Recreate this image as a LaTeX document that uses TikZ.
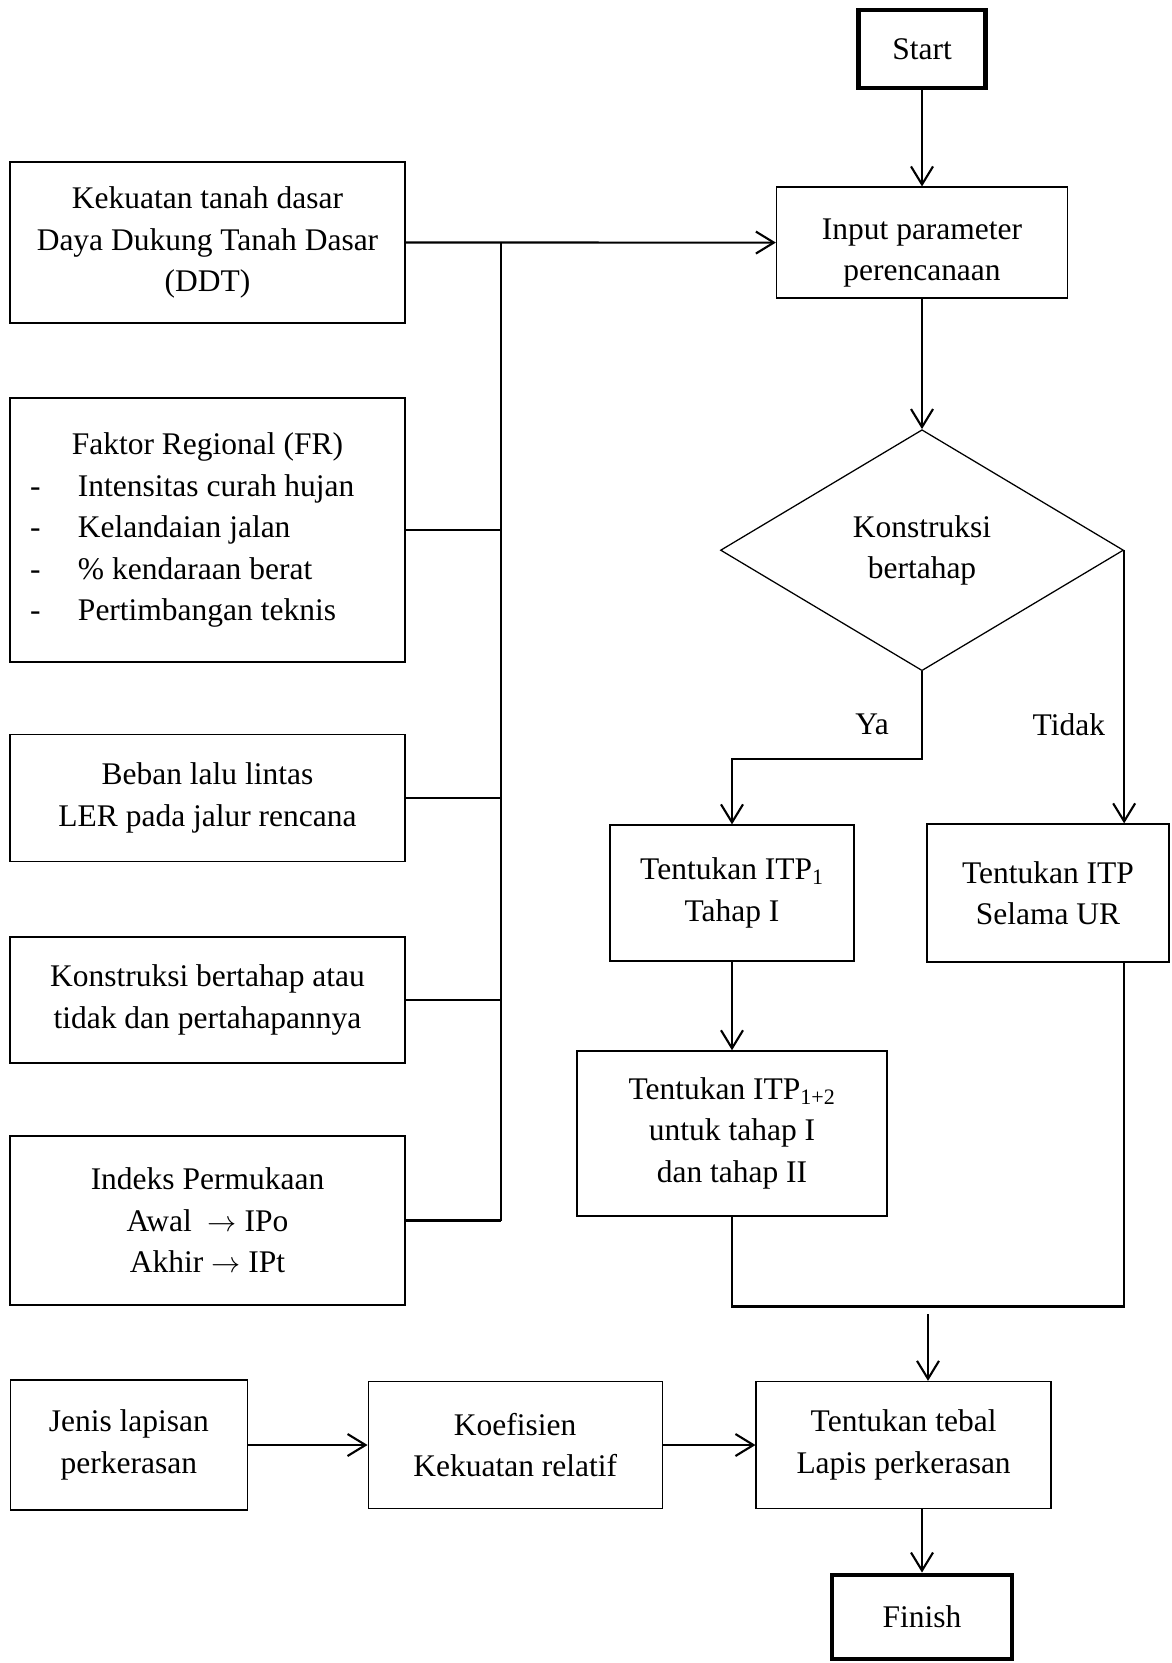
\documentclass[tikz,border=0pt]{standalone}
\usepackage{fontspec}
\setmainfont{Liberation Serif}
\usetikzlibrary{shapes,arrows.meta}

\newcommand{\dashitem}[1]{\makebox[8.875cm][l]{\makebox[1.2cm][l]{-}#1}}
\newcommand{\toarrow}{{\fontsize{20}{20}\selectfont$\rightarrow$}}

\begin{document}
\begin{tikzpicture}[
	font=\fontsize{22.4}{29.5}\selectfont,
	block/.style={
		rectangle,
		draw,
		line width=0.9pt,
		inner sep=0pt,
		align=center,
		minimum width=9.875cm},
	term/.style={
		rectangle,
		draw,
		line width=3.5pt,
		inner sep=0pt,
		minimum width=3.175cm,
		minimum height=1.95cm},
	decision/.style={
		diamond,
		draw,
		line width=0.9pt,
		inner sep=0pt,
		align=center,
		minimum width=10.075cm,
		minimum height=6.025cm},
	line/.style={
		draw,
		line width=1.5pt},
	flow/.style={
		line,
		-{Straight Barb[length=0.45cm,width=0.55cm]}},
	tag/.style={
		inner sep=0pt}]

    \useasboundingbox (0,0) rectangle (29.275,-41.575);

    % Place nodes
    \node [term] (start) at (23.05,-1.225) {Start};
    \node [block, below of=start, node distance=4.84cm, minimum width=7.275cm, minimum height=2.775cm] (input) {\rule{0pt}{1.05cm}Input parameter\\perencanaan};
    \node [decision, below of=input, node distance=7.69cm] (decision) {Konstruksi\\bertahap};
    \node [block, minimum width=6.1cm, minimum height=3.4cm] (itpone) at (18.3,-22.325) {Tentukan ITP\textsubscript{1}\\Tahap I};
    \node [block, right of=itpone, node distance=7.9cm, minimum width=6.05cm, minimum height=3.45cm] (itp) {Tentukan ITP\\Selama UR};
    \node [block, below of=itpone, node distance=6.01cm, minimum width=7.75cm, minimum height=4.125cm] (itptwo) {Tentukan ITP\textsubscript{1+2}\\untuk tahap I\\dan tahap II};
    \node [block, minimum width=7.375cm, minimum height=3.175cm] (tebal) at (22.59,-36.125) {Tentukan tebal\\Lapis perkerasan};
    \node [block, left of=tebal, node distance=9.71cm, minimum width=7.35cm, minimum height=3.175cm] (koef) {Koefisien\\Kekuatan relatif};
    \node [block, left of=koef, node distance=9.66cm, minimum width=5.925cm, minimum height=3.25cm] (jenis) {Jenis lapisan\\perkerasan};
    \node [term, minimum width=4.5cm, minimum height=2.1cm] (finish) at (23.05,-40.425) {Finish};

    % Input parameters
    \node [block, minimum height=4.025cm] (ddt) at (5.1875,-6.0625) {Kekuatan tanah dasar\\Daya Dukung Tanah Dasar\\(DDT)};
    \node [block, below of=ddt, node distance=7.19cm, minimum height=6.6cm] (fr) {Faktor Regional (FR)\\\dashitem{Intensitas curah hujan}\\\dashitem{Kelandaian jalan}\\\dashitem{\% kendaraan berat}\\\dashitem{Pertimbangan teknis}};
    \node [block, below of=fr, node distance=6.69cm, minimum height=3.175cm] (beban) {Beban lalu lintas\\LER pada jalur rencana};
    \node [block, below of=beban, node distance=5.06cm, minimum height=3.15cm] (tahapan) {Konstruksi bertahap atau\\tidak dan pertahapannya};
    \node [block, below of=tahapan, node distance=5.51cm, minimum height=4.225cm] (ip) {Indeks Permukaan\\Awal~ \toarrow{} IPo\\Akhir \toarrow{} IPt};

    % Draw edges
    \coordinate (bus) at (12.525,-6.0625);
    \coordinate (merge) at (23.2,-32.85);
    \path [flow] (start) -- (input);
    \path [flow] (ddt) -- (input);
    \path [line] (bus) -- (bus |- ip.east);
    \path [line] (fr.east) -- (fr.east -| bus);
    \path [line] (beban.east) -- (beban.east -| bus);
    \path [line] (tahapan.east) -- (tahapan.east -| bus);
    \path [line] (ip.east) -- (ip.east -| bus);
    \path [flow] (input) -- (decision);
    \path [flow] (decision.south) -- node[tag, left=0.8cm, pos=0.6] {Ya} ++(0,-2.2) -| (itpone.north);
    \path [flow] (decision.east) -- node[tag, left=0.45cm, pos=0.64] {Tidak} (decision.east |- itp.north);
    \path [flow] (itpone) -- (itptwo);
    \path [line] (itptwo.south) -- ++(0,-2.25) -| (decision.east |- itp.south);
    \path [flow] (merge) -- (merge |- tebal.north);
    \path [flow] (jenis) -- (koef);
    \path [flow] (koef) -- (tebal);
    \path [flow] (finish.north |- tebal.south) -- (finish.north);
\end{tikzpicture}
\end{document}
